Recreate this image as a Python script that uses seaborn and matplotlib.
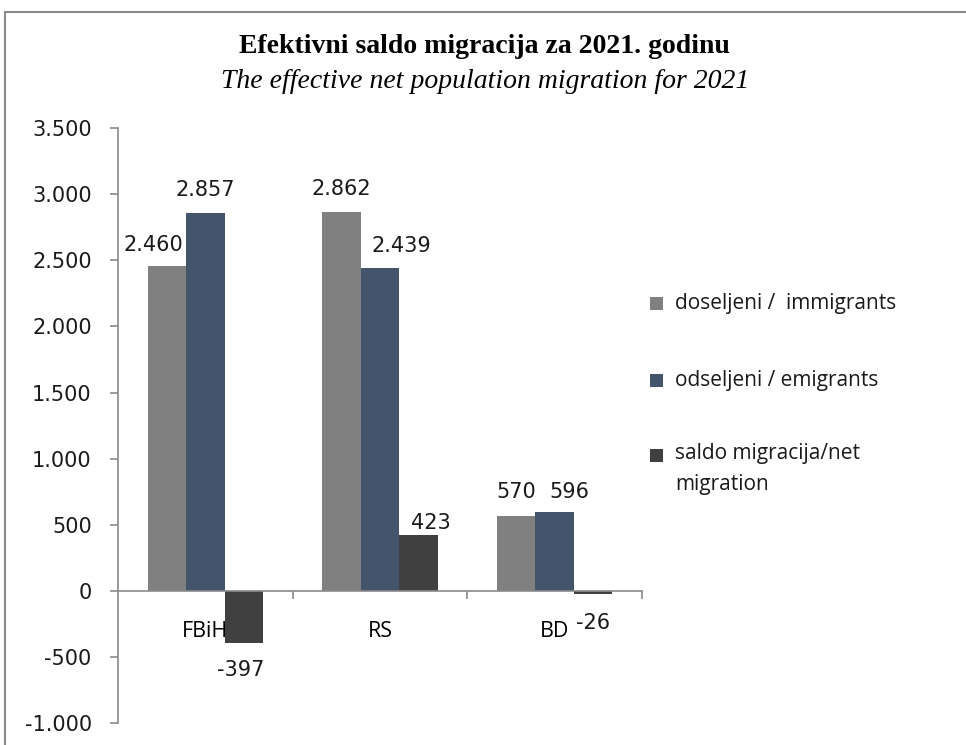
"""
Efektivni saldo migracija za 2021. godinu — grouped bar chart (FBiH / RS / BD).
"""

import matplotlib
matplotlib.use("Agg")
import matplotlib.pyplot as plt
import seaborn as sns
import pandas as pd
from matplotlib.lines import Line2D
from matplotlib.patches import Rectangle
from matplotlib.ticker import FuncFormatter

# ── Data ─────────────────────────────────────────────────────────────────────
regions = ["FBiH", "RS", "BD"]
immigrants = [2460, 2862, 570]
emigrants = [2857, 2439, 596]
net_migration = [-397, 423, -26]
series_names = ["doseljeni /  immigrants", "odseljeni / emigrants",
                "saldo migracija/net migration"]
legend_labels = ["doseljeni /  immigrants", "odseljeni / emigrants",
                 "saldo migracija/net\nmigration"]
y_ticks = [-1000, -500, 0, 500, 1000, 1500, 2000, 2500, 3000, 3500]

# ── Style ────────────────────────────────────────────────────────────────────
COLORS = ["#808080", "#44546A", "#404040"]
AXIS_GREY = "#8a8a8a"
TEXT = "#1a1a1a"

# label nudges (pixels) so they sit like the original Excel labels
LABEL_NUDGE = [
    [(-14, 21), (0, 23), (0, 24)],
    [(0, 23), (21, 22), (15, 20)],
    [(-3, -27), (12, 12), (0, -29)],
]

sns.set_style("white")
plt.rcParams["font.family"] = ["DejaVu Sans"]

df = pd.DataFrame({
    "region": regions * 3,
    "series": [s for s in series_names for _ in regions],
    "value": immigrants + emigrants + net_migration,
})

fig = plt.figure(figsize=(9.66, 7.45), dpi=100)
ax = fig.add_axes([0.1222, 0.0293, 0.5424, 0.7989])

sns.barplot(data=df, x="region", y="value", hue="series", order=regions,
            hue_order=series_names, palette=COLORS, saturation=1,
            width=0.66, linewidth=0, legend=False, ax=ax)

# ── Data labels ──────────────────────────────────────────────────────────────
fmt = lambda v: f"{v:,.0f}".replace(",", ".")
for si, container in enumerate(ax.containers):
    for ci, bar in enumerate(container):
        val = bar.get_height()
        x = bar.get_x() + bar.get_width() / 2
        dx, dy = LABEL_NUDGE[si][ci]
        ax.annotate(fmt(val), (x, val), xytext=(dx, dy),
                    textcoords="offset pixels", ha="center", va="center",
                    fontsize=15, color=TEXT)

# ── Axes ─────────────────────────────────────────────────────────────────────
ax.set_xlim(-0.5, 2.5)
ax.set_ylim(-1000, 3500)
ax.set_yticks(y_ticks)
ax.yaxis.set_major_formatter(FuncFormatter(lambda v, _: fmt(v)))
ax.set_xlabel("")
ax.set_ylabel("")

for side in ["top", "right"]:
    ax.spines[side].set_visible(False)
ax.spines["left"].set_color(AXIS_GREY)
ax.spines["bottom"].set_color(AXIS_GREY)
ax.spines["bottom"].set_position(("data", 0))
ax.spines["left"].set_linewidth(1.2)
ax.spines["bottom"].set_linewidth(1.2)

ax.tick_params(axis="y", direction="out", length=6, width=1.2,
               color=AXIS_GREY, pad=13, labelsize=15, labelcolor=TEXT, left=True)
ax.set_xticks([0, 1, 2])
ax.set_xticks([0.5, 1.5, 2.5], minor=True)
ax.tick_params(axis="x", which="major", length=0, pad=22, labelsize=15.5,
               labelcolor="black", bottom=True)
ax.tick_params(axis="x", which="minor", direction="out", length=6, width=1.2,
               color=AXIS_GREY, bottom=True)
for lbl in ax.get_xticklabels():
    lbl.set_family("Open Sans")

# ── Titles ───────────────────────────────────────────────────────────────────
fig.text(0.501, 0.937, "Efektivni saldo migracija za 2021. godinu",
         ha="center", va="center", fontsize=20, fontweight="bold",
         family="Liberation Serif", color="black")
fig.text(0.502, 0.890, "The effective net population migration for 2021",
         ha="center", va="center", fontsize=20, style="italic",
         family="Liberation Serif", color="black")

# ── Legend (drawn by hand so the wrapped label keeps its marker on line one)
legend_y = [304, 380, 455]
for color, label, ypx in zip(COLORS, legend_labels, legend_y):
    yf = 1 - ypx / 745
    fig.add_artist(Rectangle((650 / 966, yf - 6.5 / 745), 13 / 966, 13 / 745,
                             transform=fig.transFigure, color=color, lw=0))
    if "\n" in label:
        fig.text(675 / 966, yf + 12 / 745, label, ha="left", va="top",
                 fontsize=15, family="Open Sans", color=TEXT, linespacing=1.65)
    else:
        fig.text(675 / 966, yf, label, ha="left", va="center",
                 fontsize=15, family="Open Sans", color=TEXT)

# ── Chart-area border (left and top edges visible in the crop) ───────────────
fig.add_artist(Line2D([5 / 966, 5 / 966], [0, 1 - 12 / 745],
                      transform=fig.transFigure, color=AXIS_GREY, lw=1.5))
fig.add_artist(Line2D([5 / 966, 1], [1 - 12 / 745, 1 - 12 / 745],
                      transform=fig.transFigure, color=AXIS_GREY, lw=1.5))

fig.savefig("out.png", dpi=100)
plt.close(fig)
